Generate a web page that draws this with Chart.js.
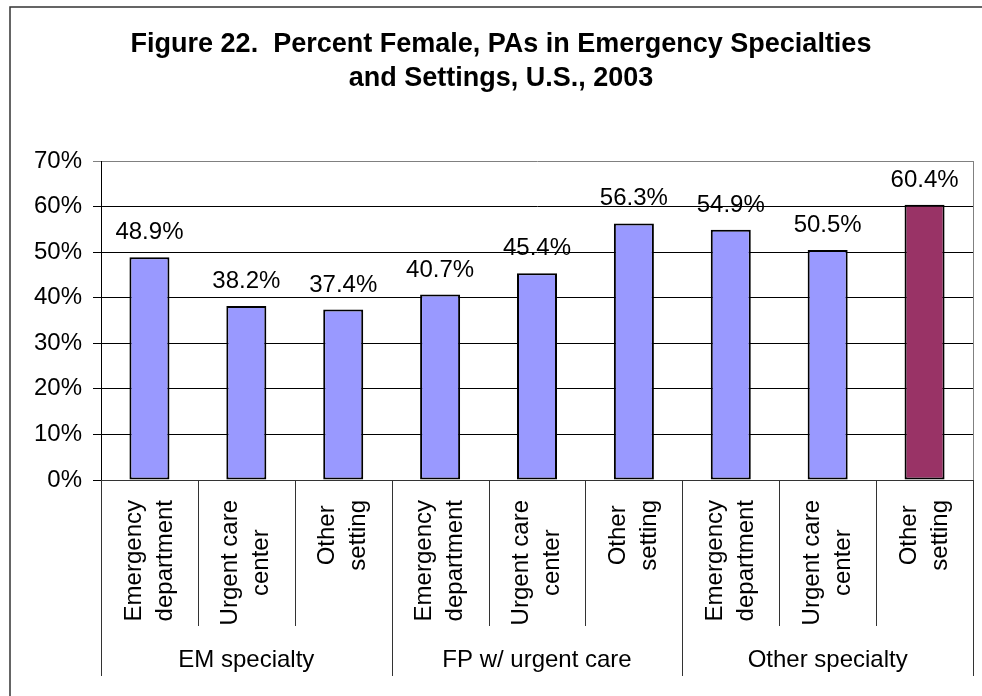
<!DOCTYPE html>
<html>
<head>
<meta charset="utf-8">
<script src="https://cdn.jsdelivr.net/npm/chart.js@4.4.1/dist/chart.umd.min.js"></script>
<style>
  html, body { margin: 0; padding: 0; background: #fff; }
  #wrap { width: 982px; height: 696px; }
</style>
</head>
<body>
<div id="wrap"><canvas id="pa-chart" width="982" height="696"></canvas></div>
<script>
// chart data
const groups = ['EM specialty', 'FP w/ urgent care', 'Other specialty'];
const settings = [['Emergency', 'department'], ['Urgent care', 'center'], ['Other', 'setting']];
const percentFemale = [48.9, 38.2, 37.4, 40.7, 45.4, 56.3, 54.9, 50.5, 60.4];
const barColors = ['#9999FF', '#9999FF', '#9999FF', '#9999FF', '#9999FF', '#9999FF', '#9999FF', '#9999FF', '#993366'];
const yTicks = [0, 10, 20, 30, 40, 50, 60, 70];

const FONT = "'Liberation Sans', Arial, sans-serif";

// one label per bar: the setting, repeated for every group
const labels = [];
groups.forEach(() => settings.forEach(s => labels.push(s)));

// frame, right border, value labels, setting labels and group labels
const extras = {
    id: 'extras',
    beforeDraw(chart) {
        const c = chart.ctx;
        c.save();
        c.strokeStyle = '#333';
        c.lineWidth = 1.5;
        c.beginPath();
        c.moveTo(10, 700);
        c.lineTo(10, 7);
        c.lineTo(990, 7);
        c.stroke();
        c.restore();
    },
    afterDraw(chart) {
        const c = chart.ctx;
        const area = chart.chartArea;
        const x = chart.scales.x;
        const meta = chart.getDatasetMeta(0);

        c.save();
        // plot area right border
        c.strokeStyle = '#808080';
        c.lineWidth = 1;
        c.beginPath();
        c.moveTo(area.right + 0.5, area.top);
        c.lineTo(area.right + 0.5, area.bottom);
        c.stroke();

        // values above bars
        c.fillStyle = '#000';
        c.font = '24px ' + FONT;
        c.textAlign = 'center';
        c.textBaseline = 'alphabetic';
        meta.data.forEach((bar, i) => {
            c.fillText(percentFemale[i].toFixed(1) + '%', bar.x, bar.y - 18);
        });

        // divider lines below the axis
        const n = labels.length;
        const step = (x.getPixelForValue(1) - x.getPixelForValue(0));
        c.strokeStyle = '#333';
        c.lineWidth = 1;
        for (let i = 0; i <= n; i++) {
            const px = Math.round(x.getPixelForValue(i) - step / 2) + 0.5;
            const isGroup = i % settings.length === 0;
            c.beginPath();
            c.moveTo(px, area.bottom);
            c.lineTo(px, isGroup ? 676 : 626);
            c.stroke();
        }

        // rotated setting labels
        const top = area.bottom + 20;
        labels.forEach((lines, i) => {
            const cx = x.getPixelForValue(i);
            const len = Math.max(...lines.map(l => c.measureText(l).width));
            lines.forEach((line, j) => {
                c.save();
                c.translate(cx + (j - (lines.length - 1) / 2) * 31, top + len / 2);
                c.rotate(-Math.PI / 2);
                c.textAlign = 'center';
                c.textBaseline = 'middle';
                c.fillText(line, 0, 0);
                c.restore();
            });
        });

        // group labels
        c.textAlign = 'center';
        c.textBaseline = 'middle';
        groups.forEach((g, gi) => {
            const first = x.getPixelForValue(gi * settings.length);
            const last = x.getPixelForValue(gi * settings.length + settings.length - 1);
            c.fillText(g, (first + last) / 2, 660);
        });
        c.restore();
    }
};

const ctx = document.getElementById('pa-chart').getContext('2d');
const paChart = new Chart(ctx, {
    type: 'bar',
    data: {
        labels: labels,
        datasets: [{
            data: percentFemale,
            backgroundColor: barColors,
            borderColor: '#000',
            borderWidth: 2,
            borderSkipped: false,
            barPercentage: 0.413,
            categoryPercentage: 1.0
        }]
    },
    options: {
        responsive: false,
        animation: false,
        devicePixelRatio: 1,
        layout: { padding: { left: 29, right: 9, top: 0, bottom: 0 } },
        plugins: {
            legend: { display: false },
            tooltip: { enabled: false },
            title: {
                display: true,
                text: ['Figure 22.  Percent Female, PAs in Emergency Specialties', 'and Settings, U.S., 2003'],
                color: '#000',
                font: { family: FONT, size: 27, weight: 'bold', lineHeight: 1.26 },
                padding: { top: 28, bottom: 65 }
            }
        },
        scales: {
            x: {
                grid: { display: false },
                border: { color: '#333', width: 1 },
                ticks: { display: false },
                afterFit(scale) { scale.height = 216; }
            },
            y: {
                min: 0,
                max: 70,
                afterBuildTicks(scale) { scale.ticks = yTicks.map(v => ({ value: v })); },
                grid: {
                    color: c => c.tick && c.tick.value === 70 ? '#808080' : '#000',
                    tickLength: 8,
                    drawTicks: true
                },
                border: { color: '#000', width: 1 },
                ticks: {
                    color: '#000',
                    padding: 11,
                    font: { family: FONT, size: 24 },
                    callback: v => v + '%'
                },
                afterFit(scale) { scale.width = 72; }
            }
        }
    },
    plugins: [extras]
});
</script>
</body>
</html>
